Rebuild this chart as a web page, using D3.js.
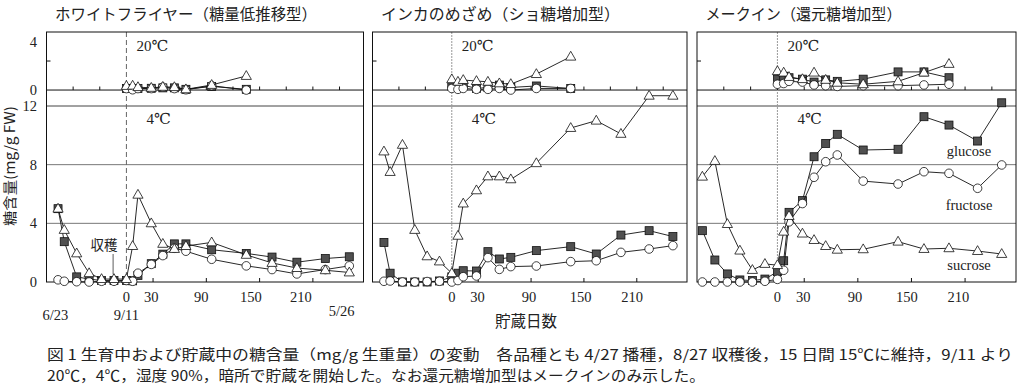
<!DOCTYPE html>
<html lang="ja">
<head>
<meta charset="UTF-8">
<title>糖含量の変動</title>
<script src="https://cdn.jsdelivr.net/npm/d3@7"></script>
<style>
  body { margin: 0; background: #fff; }
  svg text { font-family: "Liberation Serif", "DejaVu Serif", "Noto Sans CJK JP", serif; fill: #222; }
  svg text.jp { font-family: "Noto Sans CJK JP", sans-serif; }
</style>
</head>
<body>
<script>
// 9/11 を 0 とした日数
const days = [-77, -70, -56, -42, -28, -14, 0, 7, 13, 28, 41, 54, 67, 96, 135, 164, 192, 224, 251];
const daysMQ = [-84, -70, -56, -42, -28, -14, 0, 7, 13, 28, 41, 54, 67, 96, 135, 164, 192, 224, 251];
const days20 = [0, 7, 13, 28, 41, 54, 67, 96, 135];
const days20MQ = [0, 7, 13, 28, 41, 54, 67, 96, 135, 164, 192];

// ホワイトフライヤー
const wfGlu4 = [5.0, 2.75, 0.35, 0.2, 0.1, 0.1, 0.1, 0.08, 0.45, 1.25, 1.9, 2.6, 2.6, 2.2, 1.95, 1.7, 1.35, 1.6, 1.72];
const wfFru4 = [0.15, 0.05, 0.02, 0.0, 0.05, 0.05, 0.1, 0.05, 0.6, 1.2, 1.8, 2.3, 2.1, 1.55, 1.1, 0.85, 0.55, 0.85, 1.1];
const wfSuc4 = [5.0, 3.55, 1.95, 0.6, 0.2, 0.2, 0.2, 2.45, 5.95, 4.0, 2.6, 2.25, 2.45, 2.7, 1.85, 1.3, 0.95, 0.8, 0.65];
const wfGlu20 = [0.1, 0.1, 0.1, 0.12, 0.15, 0.15, 0.05, 0.25, 0.05];
const wfFru20 = [0.1, 0.02, 0.1, 0.1, 0.2, 0.1, 0.02, 0.3, 0.0];
const wfSuc20 = [0.28, 0.3, 0.2, 0.15, 0.22, 0.2, 0.05, 0.35, 0.97];

// インカのめざめ
const inGlu4 = [2.7, 0.6, 0.0, 0.0, 0.0, 0.07, 0.35, 0.6, 0.77, 0.75, 2.07, 1.57, 1.68, 2.14, 2.41, 1.91, 3.2, 3.5, 3.1];
const inFru4 = [0.05, 0.07, 0.0, 0.0, 0.03, 0.05, 0.0, 0.1, 0.36, 0.41, 1.66, 0.86, 1.05, 1.09, 1.39, 1.45, 2.02, 2.25, 2.48];
const inSuc4 = [8.9, 7.5, 9.35, 3.55, 1.75, 1.4, 0.6, 3.15, 5.35, 6.25, 7.2, 7.2, 7.0, 8.1, 10.5, 11.0, 10.1, 12.7, 12.7];
const inGlu20 = [0.28, 0.3, 0.34, 0.11, 0.18, 0.34, 0.18, 0.28, 0.11];
const inFru20 = [0.11, 0.05, 0.11, 0.05, 0.05, 0.11, 0.0, 0.11, 0.11];
const inSuc20 = [0.74, 0.57, 0.69, 0.62, 0.57, 0.46, 0.41, 1.1, 2.3];

// メークイン
const mqGlu4 = [3.5, 1.5, 0.55, 0.14, 0.1, 0.2, 0.7, 1.45, 4.75, 5.55, 8.54, 9.45, 10.07, 9.0, 9.05, 11.27, 10.7, 9.61, 12.22];
const mqFru4 = [0.0, 0.0, 0.0, 0.0, 0.0, 0.05, 0.18, 0.8, 4.1, 5.35, 7.14, 8.2, 8.66, 6.88, 6.68, 7.52, 7.41, 6.39, 7.98];
const mqSuc4 = [7.18, 8.25, 3.95, 2.14, 0.82, 1.23, 1.15, 3.43, 4.5, 3.3, 2.86, 2.45, 2.2, 2.23, 2.75, 2.25, 2.3, 2.11, 1.91];
const mqGlu20 = [0.75, 0.95, 0.85, 0.75, 0.55, 0.7, 0.6, 0.75, 1.25, 1.25, 0.85];
const mqFru20 = [0.4, 0.45, 0.6, 0.55, 0.35, 0.3, 0.25, 0.3, 0.3, 0.35, 0.4];
const mqSuc20 = [1.3, 1.2, 0.9, 0.75, 1.2, 0.7, 0.5, 0.4, 0.6, 1.2, 1.8];

const titles = ["ホワイトフライヤー（糖量低推移型）", "インカのめざめ（ショ糖増加型）", "メークイン（還元糖増加型）"];
const seriesNames = ["glucose", "fructose", "sucrose"];
const xTickLabels = [0, 30, 90, 150, 210];
const yTicksLow = [0, 4, 8, 12];
const yTicksUp = [0, 4];
const dateLabels = ["6/23", "9/11", "5/26"];
const dateDays = [-80, 0, 257];
const harvestDay = -15;

const width = 1018, height = 387;
const svg = d3.select("body").append("svg").attr("width", width).attr("height", height);

const yTop = 32, ySep = 106, yBot = 282;
const yLow = d3.scaleLinear().domain([0, 12]).range([yBot, ySep]);
const yUp = d3.scaleLinear().domain([-1.1, 4]).range([ySep, yTop]);

// labelK: 元図の目盛り数字は目盛り位置より少し左寄り
const panels = [
  { left: 46.5, right: 363.5, d4: days, d20: days20, s4: [wfGlu4, wfFru4, wfSuc4], s20: [wfGlu20, wfFru20, wfSuc20], tw: 262, labelK: 0.935 },
  { left: 372.5, right: 687, d4: days, d20: days20, s4: [inGlu4, inFru4, inSuc4], s20: [inGlu20, inFru20, inSuc20], tw: 239, labelK: 0.975 },
  { left: 697, right: 1016, d4: daysMQ, d20: days20MQ, s4: [mqGlu4, mqFru4, mqSuc4], s20: [mqGlu20, mqFru20, mqSuc20], tw: 196, labelK: 0.965 }
];

function drawMarks(g, x, y, ds, vals, k) {
  const pts = ds.map((d, i) => [d, vals[i]]);
  g.append("path")
    .attr("d", d3.line().x(d => x(d[0])).y(d => y(d[1]))(pts))
    .attr("fill", "none").attr("stroke", "#111").attr("stroke-width", 0.9);
  const m = g.selectAll(null).data(pts).enter();
  if (k === 0) {
    m.append("rect")
      .attr("x", d => x(d[0]) - 4).attr("y", d => y(d[1]) - 4)
      .attr("width", 8).attr("height", 8)
      .attr("fill", "#505050").attr("stroke", "#111").attr("stroke-width", 0.8);
  } else if (k === 1) {
    m.append("circle")
      .attr("cx", d => x(d[0])).attr("cy", d => y(d[1])).attr("r", 4.3)
      .attr("fill", "#fff").attr("stroke", "#111").attr("stroke-width", 0.8);
  } else {
    m.append("path")
      .attr("d", d3.symbol(d3.symbolTriangle, 45))
      .attr("transform", d => `translate(${x(d[0])},${y(d[1]) + 0.5})`)
      .attr("fill", "#fff").attr("stroke", "#111").attr("stroke-width", 0.8);
  }
}

panels.forEach((p, i) => {
  const x = d3.scaleLinear().domain([-90, 267]).range([p.left, p.right]);
  const g = svg.append("g");

  // grid
  g.selectAll(null).data([4, 8]).enter().append("line")
    .attr("x1", p.left).attr("x2", p.right)
    .attr("y1", d => yLow(d)).attr("y2", d => yLow(d))
    .attr("stroke", "#777").attr("stroke-width", 1);
  g.append("line").attr("x1", p.left).attr("x2", p.right)
    .attr("y1", yLow(12)).attr("y2", yLow(12))
    .attr("stroke", "#444").attr("stroke-width", 1);
  g.append("line").attr("x1", p.left).attr("x2", p.right)
    .attr("y1", yUp(0)).attr("y2", yUp(0))
    .attr("stroke", "#111").attr("stroke-width", 1);

  // day 0
  g.append("line").attr("x1", x(0)).attr("x2", x(0)).attr("y1", yTop).attr("y2", yBot)
    .attr("stroke", i === 0 ? "#666" : "#999").attr("stroke-width", 1)
    .attr("stroke-dasharray", i === 0 ? "5,3" : "2,1");

  // ticks on the 20℃ zero line
  g.selectAll(null).data(d3.range(-60, 241, 30)).enter().append("line")
    .attr("x1", d => x(d)).attr("x2", d => x(d))
    .attr("y1", yUp(0)).attr("y2", yUp(0) - 3.5)
    .attr("stroke", "#111");
  // bottom ticks
  g.selectAll(null).data([30, 90, 150, 210]).enter().append("line")
    .attr("x1", d => x(d)).attr("x2", d => x(d))
    .attr("y1", yBot).attr("y2", yBot - 4)
    .attr("stroke", "#111");
  // left tick at 2
  g.append("line").attr("x1", p.left).attr("x2", p.left + 4)
    .attr("y1", yUp(2)).attr("y2", yUp(2)).attr("stroke", "#111");

  g.append("rect").attr("x", p.left).attr("y", yTop)
    .attr("width", p.right - p.left).attr("height", yBot - yTop)
    .attr("fill", "none").attr("stroke", "#111").attr("stroke-width", 1);

  // x labels
  g.selectAll(null).data(xTickLabels).enter().append("text")
    .attr("x", d => x(0) + (x(d) - x(0)) * p.labelK).attr("y", 302)
    .attr("text-anchor", "middle").attr("font-size", 14.5)
    .text(d => d);

  // temperature labels
  g.append("text").attr("x", x(0) + 10).attr("y", yTop + 19).attr("font-size", 15).text("20℃");
  g.append("text").attr("x", x(0) + 20).attr("y", ySep + 18).attr("font-size", 15).text("4℃");

  // title
  g.append("text").attr("class", "jp").attr("x", p.left + 8.5).attr("y", 20)
    .attr("font-size", 15.5).attr("textLength", p.tw).attr("lengthAdjust", "spacingAndGlyphs")
    .text(titles[i]);

  // series
  [0, 1, 2].forEach(k => {
    drawMarks(g, x, yUp, p.d20, p.s20[k], k);
  });
  [0, 1, 2].forEach(k => {
    drawMarks(g, x, yLow, p.d4, p.s4[k], k);
  });

  if (i === 0) {
    // y labels
    g.selectAll(null).data(yTicksLow).enter().append("text")
      .attr("x", 37).attr("y", d => yLow(d) + 5)
      .attr("text-anchor", "end").attr("font-size", 14.5).text(d => d);
    g.selectAll(null).data(yTicksUp).enter().append("text")
      .attr("x", 37).attr("y", d => d === 4 ? 47 : yUp(d) + 5)
      .attr("text-anchor", "end").attr("font-size", 14.5).text(d => d);

    g.selectAll(null).data(dateLabels).enter().append("text")
      .attr("x", (d, j) => x(dateDays[j]))
      .attr("y", (d, j) => j === 2 ? 316 : 320)
      .attr("text-anchor", (d, j) => j === 2 ? "end" : "middle")
      .attr("font-size", 14.5).text(d => d);

    // 収穫
    g.append("line").attr("x1", x(harvestDay)).attr("x2", x(harvestDay))
      .attr("y1", 254).attr("y2", 274.5).attr("stroke", "#333").attr("stroke-width", 0.8);
    g.append("text").attr("class", "jp").attr("x", x(harvestDay) - 9).attr("y", 250)
      .attr("text-anchor", "middle").attr("font-size", 13.5).attr("fill", "#333").text("収穫");
  }

  if (i === 2) {
    const lx = 969;
    g.selectAll(null).data(seriesNames).enter().append("text")
      .attr("x", lx).attr("y", (d, j) => [156, 210, 270][j])
      .attr("text-anchor", "middle").attr("font-size", 14.5)
      .attr("fill", "#444").text(d => d);
  }
});

// axis titles
svg.append("text").attr("class", "jp")
  .attr("transform", "translate(15,166) rotate(-90)")
  .attr("text-anchor", "middle").attr("font-size", 14)
  .attr("textLength", 120).attr("lengthAdjust", "spacingAndGlyphs")
  .text("糖含量(mg/g FW)");
svg.append("text").attr("class", "jp")
  .attr("x", 526).attr("y", 327).attr("text-anchor", "middle").attr("font-size", 15.5)
  .text("貯蔵日数");

// caption
svg.append("text").attr("class", "jp").attr("x", 47).attr("y", 359.5).attr("font-size", 14.5)
  .attr("textLength", 966).attr("lengthAdjust", "spacingAndGlyphs")
  .text("図 1 生育中および貯蔵中の糖含量（mg/g 生重量）の変動　各品種とも 4/27 播種，8/27 収穫後，15 日間 15℃に維持，9/11 より");
svg.append("text").attr("class", "jp").attr("x", 47).attr("y", 380.5).attr("font-size", 14.5)
  .attr("textLength", 658).attr("lengthAdjust", "spacingAndGlyphs")
  .text("20℃，4℃，湿度 90%，暗所で貯蔵を開始した。なお還元糖増加型はメークインのみ示した。");
</script>
</body>
</html>
